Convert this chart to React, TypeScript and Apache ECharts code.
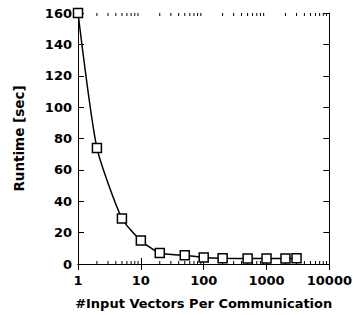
import React, { useEffect, useRef } from "react";
import * as echarts from "echarts";

const vectorsPerComm = [1, 2, 5, 10, 20, 50, 100, 200, 500, 1000, 2000, 3000];
const runtimeSec = [160, 74, 29, 15, 7, 5.5, 4.2, 3.7, 3.5, 3.5, 3.5, 3.6];
const minorTickValues = [
  2, 3, 4, 5, 6, 7, 8, 9,
  20, 30, 40, 50, 60, 70, 80, 90,
  200, 300, 400, 500, 600, 700, 800, 900,
  2000, 3000, 4000, 5000, 6000, 7000, 8000, 9000,
];

const FONT = "DejaVu Sans";

export default function App() {
  const ref = useRef<HTMLDivElement>(null);
  useEffect(() => {
    document.body.style.margin = "0";
    if (!ref.current) return;
    const chart = echarts.init(ref.current, undefined, { renderer: "svg" });
    const labelStyle = { fontFamily: FONT, fontWeight: "bold", fontSize: 13, color: "#000" };
    const xCommon = {
      type: "log",
      logBase: 10,
      min: 1,
      max: 10000,
      axisLine: { show: true, lineStyle: { color: "#000", width: 1 } },
      axisTick: { show: true, inside: true, length: 6, lineStyle: { color: "#000" } },
      splitLine: { show: false },
    };
    const yCommon = {
      type: "value",
      min: 0,
      max: 160,
      interval: 20,
      axisLine: { show: true, lineStyle: { color: "#000", width: 1 } },
      axisTick: { show: true, inside: true, length: 6, lineStyle: { color: "#000" } },
      splitLine: { show: false },
    };
    chart.setOption({
      animation: false,
      grid: { left: 78, right: 24, top: 13, bottom: 49 },
      xAxis: [
        {
          ...xCommon,
          position: "bottom",
          name: "#Input Vectors Per Communication",
          nameLocation: "middle",
          nameGap: 33,
          nameTextStyle: labelStyle,
          axisLabel: { ...labelStyle, margin: 10, formatter: (v: number) => String(Math.round(v)) },
        },
        {
          ...xCommon,
          position: "top",
          axisLabel: { show: false },
        },
      ],
      yAxis: [
        {
          ...yCommon,
          position: "left",
          name: "Runtime [sec]",
          nameLocation: "middle",
          nameGap: 52,
          nameTextStyle: { ...labelStyle, fontSize: 13.5 },
          axisLabel: { ...labelStyle, margin: 6 },
        },
        {
          ...yCommon,
          position: "right",
          axisLabel: { show: false },
        },
      ],
      series: [
        {
          type: "custom",
          silent: true,
          clip: false,
          xAxisIndex: 0,
          yAxisIndex: 0,
          data: minorTickValues.map((v) => [v, 0]),
          renderItem: (params: any, api: any) => {
            const v = api.value(0);
            const b = api.coord([v, 0]);
            const t = api.coord([v, 160]);
            const style = { stroke: "#000", lineWidth: 1 };
            return {
              type: "group",
              children: [
                { type: "line", shape: { x1: b[0], y1: b[1], x2: b[0], y2: b[1] - 3 }, style },
                { type: "line", shape: { x1: t[0], y1: t[1], x2: t[0], y2: t[1] + 3 }, style },
              ],
            };
          },
        },
        {
          type: "line",
          xAxisIndex: 0,
          yAxisIndex: 0,
          data: vectorsPerComm.map((x, i) => [x, runtimeSec[i]]),
          smooth: 0.2,
          symbol: "rect",
          symbolSize: 9,
          showAllSymbol: true,
          lineStyle: { color: "#000", width: 1.5 },
          itemStyle: { color: "#fff", borderColor: "#000", borderWidth: 1.5 },
          z: 3,
        },
      ],
    });
    return () => chart.dispose();
  }, []);
  return <div ref={ref} style={{ width: 355, height: 315 }} />;
}
